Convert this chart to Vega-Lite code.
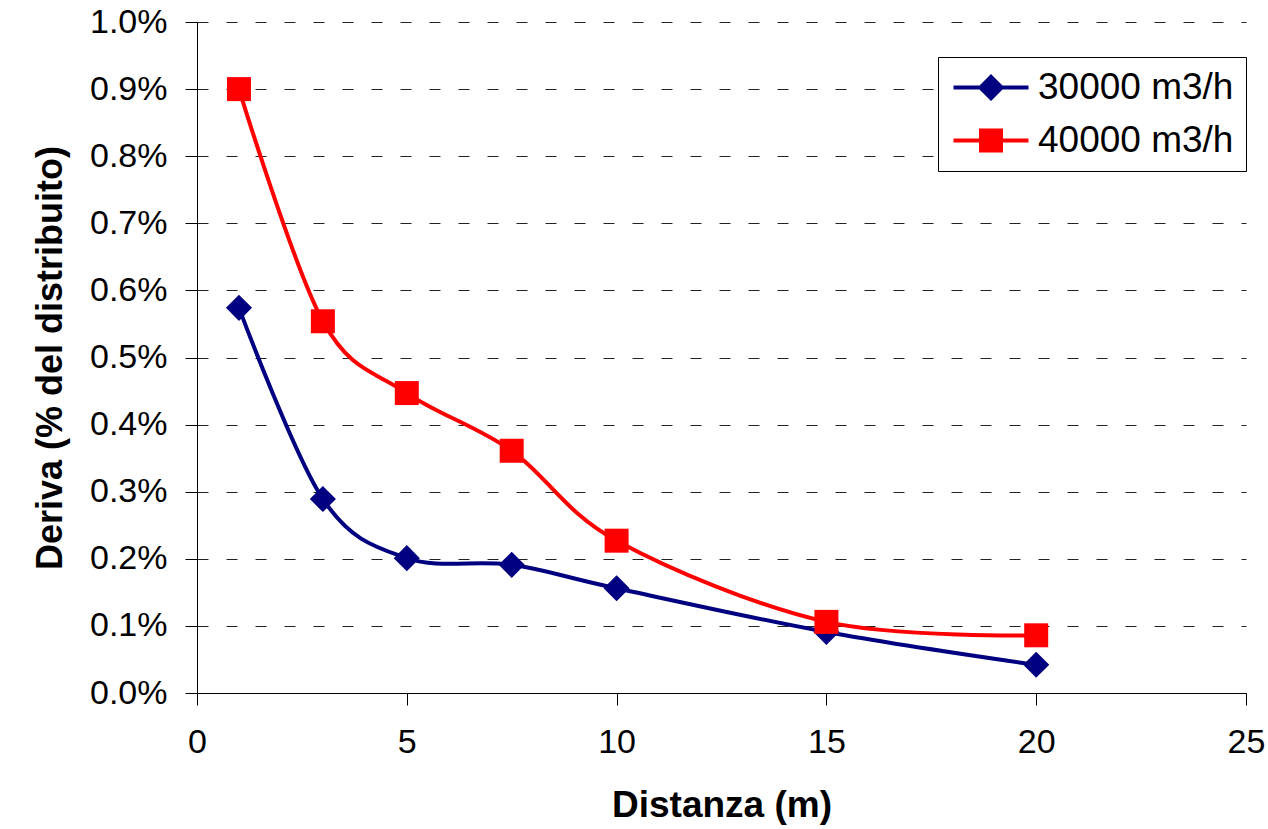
{
  "$schema": "https://vega.github.io/schema/vega-lite/v6.json",
  "autosize": "none",
  "width": 1049,
  "height": 671,
  "padding": {"left": 197, "top": 22, "right": 22, "bottom": 136},
  "background": "white",
  "config": {"view": {"stroke": null}, "font": "Liberation Sans"},
  "data": {
    "values": [
      {"distanza": 1, "deriva": 0.00574, "serie": "30000 m3/h"},
      {"distanza": 3, "deriva": 0.00289, "serie": "30000 m3/h"},
      {"distanza": 5, "deriva": 0.00201, "serie": "30000 m3/h"},
      {"distanza": 7.5, "deriva": 0.00191, "serie": "30000 m3/h"},
      {"distanza": 10, "deriva": 0.00156, "serie": "30000 m3/h"},
      {"distanza": 15, "deriva": 0.00091, "serie": "30000 m3/h"},
      {"distanza": 20, "deriva": 0.00042, "serie": "30000 m3/h"},
      {"distanza": 1, "deriva": 0.00900, "serie": "40000 m3/h"},
      {"distanza": 3, "deriva": 0.00554, "serie": "40000 m3/h"},
      {"distanza": 5, "deriva": 0.00447, "serie": "40000 m3/h"},
      {"distanza": 7.5, "deriva": 0.00361, "serie": "40000 m3/h"},
      {"distanza": 10, "deriva": 0.00227, "serie": "40000 m3/h"},
      {"distanza": 15, "deriva": 0.00106, "serie": "40000 m3/h"},
      {"distanza": 20, "deriva": 0.00086, "serie": "40000 m3/h"}
    ]
  },
  "encoding": {
    "x": {
      "field": "distanza", "type": "quantitative",
      "scale": {"domain": [0, 25], "nice": false, "zero": false},
      "axis": {
        "values": [0, 5, 10, 15, 20, 25], "grid": false,
        "tickSize": 12, "tickColor": "black", "domainColor": "black",
        "labelFontSize": 34, "labelColor": "black", "labelPadding": 20, "labelFlush": false,
        "title": "Distanza (m)", "titleFontSize": 37, "titleFontWeight": "bold", "titleColor": "black", "titlePadding": 28
      }
    },
    "y": {
      "field": "deriva", "type": "quantitative",
      "scale": {"domain": [0, 0.01], "nice": false},
      "axis": {
        "values": [0, 0.001, 0.002, 0.003, 0.004, 0.005, 0.006, 0.007, 0.008, 0.009, 0.01],
        "format": ".1%",
        "grid": true, "gridDash": [11, 18], "gridColor": "#222", "gridWidth": 1,
        "tickSize": 12, "tickColor": "black", "domainColor": "black",
        "labelFontSize": 34, "labelColor": "black", "labelPadding": 18, "labelFlush": false,
        "title": "Deriva (% del distribuito)", "titleFontSize": 36, "titleFontWeight": "bold", "titleColor": "black", "titlePadding": 20
      }
    },
    "color": {
      "field": "serie", "type": "nominal",
      "scale": {"domain": ["30000 m3/h", "40000 m3/h"], "range": ["#000080", "#FF0000"]},
      "legend": {
        "orient": "none", "legendX": 741, "legendY": 35, "title": null,
        "strokeColor": "black", "fillColor": "white", "padding": 12,
        "labelFontSize": 37, "labelColor": "black", "labelOffset": 51, "labelLimit": 0,
        "symbolSize": 900, "rowPadding": 15,
        "encode": {
          "symbols": {
            "update": {
              "shape": {"signal": "datum.value === '30000 m3/h' ? 'M-1,-0.133H4V0.133H-1Z M1.5,-0.9L2.4,0L1.5,0.9L0.6,0Z' : 'M-1,-0.133H4V0.133H-1Z M0.7,-0.8H2.3V0.8H0.7Z'"},
              "fill": {"signal": "datum.value === '30000 m3/h' ? '#000080' : '#FF0000'"},
              "fillOpacity": {"value": 1},
              "stroke": {"value": "transparent"},
              "strokeWidth": {"value": 0},
              "opacity": {"value": 1}
            }
          }
        }
      }
    }
  },
  "layer": [
    {"mark": {"type": "line", "interpolate": "cardinal", "strokeWidth": 4}},
    {
      "transform": [{"filter": "datum.serie === '30000 m3/h'"}],
      "mark": {"type": "point", "shape": "diamond", "size": 680, "filled": true, "opacity": 1, "strokeWidth": 0}
    },
    {
      "transform": [{"filter": "datum.serie === '40000 m3/h'"}],
      "mark": {"type": "point", "shape": "square", "size": 576, "filled": true, "opacity": 1, "strokeWidth": 0}
    },
    {
      "data": {"values": [{"bordo": 25}]},
      "mark": {"type": "rule", "color": "black", "strokeWidth": 1},
      "encoding": {
        "x": {"field": "bordo", "type": "quantitative"},
        "y": {"datum": 0},
        "y2": {"datum": 0.01},
        "color": null
      }
    }
  ]
}
